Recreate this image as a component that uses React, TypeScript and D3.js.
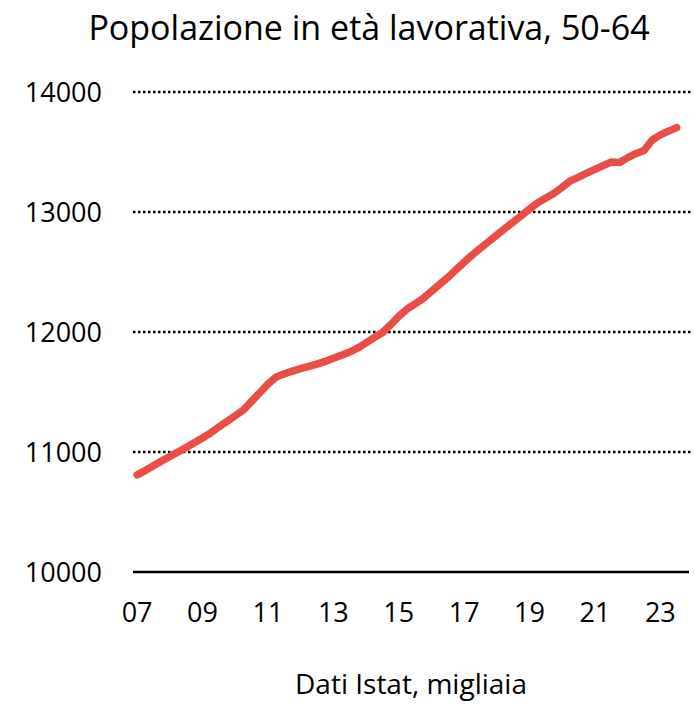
import React, { useEffect, useRef } from 'react';
import * as d3 from 'd3';

// quarters 2007Q1 .. 2023Q4 (axis); data runs to 2023Q3
const years = d3.range(2007, 2024);
const quarters = years.flatMap(y => [1, 2, 3, 4].map(q => `${y}Q${q}`));
const tickLabels = ['07', '09', '11', '13', '15', '17', '19', '21', '23'];
const yTicks = [10000, 11000, 12000, 13000, 14000];

// popolazione 50-64, migliaia
const values = [
  10810, 10845, 10885, 10925, 10963, 11000, 11037, 11077,
  11117, 11160, 11208, 11255, 11302, 11350, 11422, 11494,
  11566, 11624, 11652, 11674, 11694, 11713, 11732, 11755,
  11781, 11807, 11833, 11867, 11909, 11953, 11994, 12060,
  12130, 12190, 12235, 12281, 12339, 12397, 12455, 12518,
  12582, 12643, 12699, 12753, 12808, 12863, 12916, 12970,
  13025, 13077, 13116, 13156, 13206, 13260, 13291, 13324,
  13356, 13387, 13417, 13412, 13453, 13486, 13513, 13600,
  13643, 13674, 13703,
];

const W = 695;
const H = 704;
const FONT = '"Open Sans", sans-serif';

const App = () => {
  const ref = useRef<SVGSVGElement>(null);

  useEffect(() => {
    const svg = d3.select(ref.current);
    svg.selectAll('*').remove();

    const left = 133, right = 689, top = 92, bottom = 572;

    const x = d3.scalePoint<string>().domain(quarters).range([left, right]).padding(0.5);
    const y = d3.scaleLinear().domain([10000, 14000]).range([bottom, top]);

    // title
    svg.append('text')
      .attr('x', 369)
      .attr('y', 40)
      .attr('text-anchor', 'middle')
      .style('font-family', FONT)
      .style('font-size', '34px')
      .text('Popolazione in età lavorativa, 50-64');

    // dotted gridlines
    svg.append('g')
      .selectAll('line')
      .data(yTicks.filter(d => d > 10000))
      .enter()
      .append('line')
      .attr('x1', left)
      .attr('x2', right + 3)
      .attr('y1', d => y(d))
      .attr('y2', d => y(d))
      .attr('stroke', '#000')
      .attr('stroke-width', 2.5)
      .attr('stroke-dasharray', '2.5,2.5');

    // baseline
    svg.append('line')
      .attr('x1', left)
      .attr('x2', right)
      .attr('y1', y(10000))
      .attr('y2', y(10000))
      .attr('stroke', '#000')
      .attr('stroke-width', 2.5);

    // y labels
    svg.append('g')
      .selectAll('text')
      .data(yTicks)
      .enter()
      .append('text')
      .attr('x', 102)
      .attr('y', d => y(d) + 10)
      .attr('text-anchor', 'end')
      .style('font-family', FONT)
      .style('font-size', '27px')
      .text(d => d);

    // x labels, one every two years
    svg.append('g')
      .selectAll('text')
      .data(tickLabels)
      .enter()
      .append('text')
      .attr('x', d => x(`20${d}Q1`))
      .attr('y', 622)
      .attr('text-anchor', 'middle')
      .style('font-family', FONT)
      .style('font-size', '27px')
      .text(d => d);

    // the line
    const line = d3.line<number>()
      .x((d, i) => x(quarters[i]))
      .y(d => y(d));

    svg.append('path')
      .datum(values)
      .attr('fill', 'none')
      .attr('stroke', '#E84E47')
      .attr('stroke-width', 7.5)
      .attr('stroke-linecap', 'round')
      .attr('stroke-linejoin', 'round')
      .attr('d', line);

    // source note
    svg.append('text')
      .attr('x', 411)
      .attr('y', 694)
      .attr('text-anchor', 'middle')
      .style('font-family', FONT)
      .style('font-size', '28px')
      .text('Dati Istat, migliaia');
  }, []);

  return (
    <svg
      ref={ref}
      width={W}
      height={H}
      style={{ position: 'absolute', left: 0, top: 0, background: '#fff' }}
    />
  );
};

export default App;
